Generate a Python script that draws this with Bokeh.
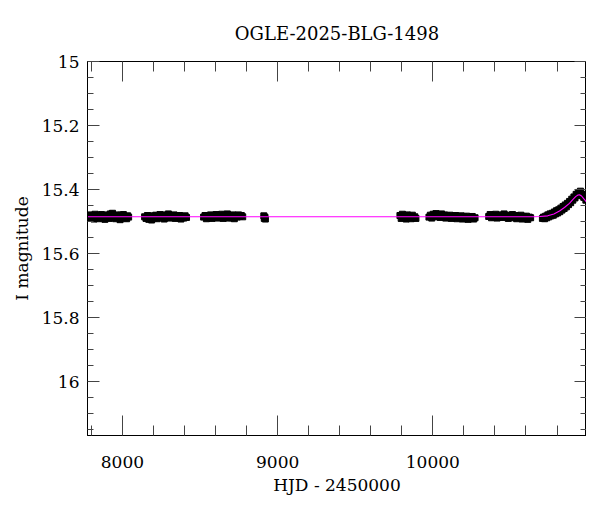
from bokeh.plotting import figure
from bokeh.models import Range1d, LinearAxis, FixedTicker, CustomLabelingPolicy
from bokeh.embed import file_html
from bokeh.resources import INLINE

TITLE = "OGLE-2025-BLG-1498"
X_LABEL = "HJD - 2450000"
Y_LABEL = "I magnitude"

x_major = [8000, 9000, 10000]
x_minor = [7800, 8200, 8400, 8600, 8800, 9200, 9400, 9600, 9800, 10200, 10400, 10600, 10800]
y_major = [15.0, 15.2, 15.4, 15.6, 15.8, 16.0]
y_labels = ["15", "15.2", "15.4", "15.6", "15.8", "16"]
y_minor = [15.05, 15.1, 15.15, 15.25, 15.3, 15.35, 15.45, 15.5, 15.55, 15.65, 15.7, 15.75,
           15.85, 15.9, 15.95, 16.05, 16.1, 16.15]

# observations per season (HJD - 2450000, I mag)
t1 = [7782, 7789, 7796, 7803, 7810, 7817, 7824, 7831, 7838, 7845, 7852, 7859, 7866, 7873, 7880,
      7887, 7894, 7901, 7908, 7915, 7922, 7929, 7936, 7943, 7950, 7957, 7964, 7971, 7978, 7985,
      7992, 7999, 8006, 8013, 8020, 8027, 8034, 8040]
m1 = [15.484, 15.479, 15.490, 15.486, 15.481, 15.492, 15.477, 15.487, 15.483, 15.491, 15.480,
      15.486, 15.478, 15.489, 15.484, 15.493, 15.481, 15.486, 15.479, 15.490, 15.476, 15.485,
      15.474, 15.488, 15.482, 15.491, 15.479, 15.486, 15.483, 15.494, 15.480, 15.487, 15.478,
      15.489, 15.484, 15.491, 15.482, 15.486]
t2 = [8143, 8152, 8161, 8170, 8179, 8188, 8197, 8206, 8215, 8224, 8233, 8242, 8251, 8260, 8269,
      8278, 8287, 8296, 8305, 8314, 8323, 8332, 8341, 8350, 8359, 8368, 8377, 8386, 8395, 8404, 8413]
m2 = [15.485, 15.490, 15.481, 15.493, 15.484, 15.495, 15.482, 15.489, 15.480, 15.491, 15.484,
      15.478, 15.488, 15.482, 15.492, 15.479, 15.486, 15.476, 15.489, 15.481, 15.487, 15.479,
      15.490, 15.483, 15.488, 15.481, 15.492, 15.484, 15.489, 15.482, 15.487]
t3 = [8523, 8532, 8541, 8550, 8559, 8568, 8577, 8586, 8595, 8604, 8613, 8622, 8631, 8640, 8649,
      8658, 8667, 8676, 8685, 8694, 8703, 8712, 8721, 8730, 8739, 8748, 8757, 8766, 8775]
m3 = [15.486, 15.481, 15.491, 15.483, 15.488, 15.479, 15.490, 15.482, 15.487, 15.478, 15.489,
      15.481, 15.486, 15.477, 15.490, 15.480, 15.487, 15.476, 15.489, 15.482, 15.488, 15.479,
      15.491, 15.481, 15.486, 15.479, 15.484, 15.481, 15.485]
t4 = [8911, 8914, 8918, 8921]
m4 = [15.482, 15.490, 15.486, 15.492]
t5 = [9788, 9796, 9804, 9812, 9820, 9828, 9836, 9844, 9852, 9860, 9868, 9876, 9884, 9891]
m5 = [15.481, 15.490, 15.477, 15.486, 15.482, 15.492, 15.479, 15.487, 15.483, 15.491, 15.480,
      15.488, 15.485, 15.490]
t6 = [9975, 9984, 9993, 10002, 10011, 10020, 10029, 10038, 10047, 10056, 10065, 10074, 10083,
      10092, 10101, 10110, 10119, 10128, 10137, 10146, 10155, 10164, 10173, 10182, 10191, 10200,
      10209, 10218, 10227, 10236, 10245, 10254, 10263, 10272]
m6 = [15.486, 15.480, 15.489, 15.477, 15.485, 15.475, 15.483, 15.478, 15.487, 15.476, 15.484,
      15.479, 15.489, 15.482, 15.486, 15.480, 15.490, 15.483, 15.487, 15.481, 15.491, 15.484,
      15.488, 15.482, 15.492, 15.485, 15.489, 15.483, 15.493, 15.486, 15.490, 15.484, 15.492, 15.488]
t7 = [10360, 10369, 10378, 10387, 10396, 10405, 10414, 10423, 10432, 10441, 10450, 10459, 10468,
      10477, 10486, 10495, 10504, 10513, 10522, 10531, 10540, 10549, 10558, 10567, 10576, 10585,
      10594, 10603, 10612, 10621, 10630]
m7 = [15.484, 15.478, 15.488, 15.481, 15.486, 15.477, 15.489, 15.482, 15.485, 15.479, 15.487,
      15.476, 15.484, 15.480, 15.490, 15.482, 15.486, 15.478, 15.488, 15.481, 15.491, 15.483,
      15.487, 15.480, 15.492, 15.484, 15.489, 15.483, 15.493, 15.486, 15.488]
t8 = [10706, 10713, 10720, 10727, 10734, 10741, 10748, 10755, 10762, 10769, 10776, 10783, 10790,
      10797, 10804, 10811, 10818, 10825, 10832, 10839, 10846, 10853, 10860, 10867, 10874, 10881,
      10888, 10895, 10902, 10909, 10916, 10923, 10930, 10937, 10944, 10951, 10958, 10965, 10972,
      10979, 10986]
m8 = [15.490, 15.486, 15.491, 15.483, 15.488, 15.479, 15.485, 15.476, 15.482, 15.474, 15.480,
      15.470, 15.476, 15.466, 15.473, 15.463, 15.469, 15.458, 15.464, 15.453, 15.459, 15.448,
      15.454, 15.443, 15.447, 15.437, 15.441, 15.430, 15.433, 15.423, 15.426, 15.415, 15.419,
      15.409, 15.412, 15.405, 15.414, 15.417, 15.424, 15.425, 15.433]

# model curve
model_t = [7775, 10650, 10690, 10740, 10780, 10816, 10848, 10880, 10900, 10920, 10935, 10945,
           10958, 10972, 10990]
model_m = [15.485, 15.485, 15.484, 15.482, 15.476, 15.467, 15.456, 15.443, 15.432, 15.422,
           15.417, 15.416, 15.420, 15.428, 15.439]

FONT = "DejaVu Serif"

p = figure(frame_width=499, frame_height=374,
           x_range=Range1d(7775, 10990), y_range=Range1d(16.168, 15.0),
           output_backend="svg", toolbar_location=None,
           min_border_left=0, min_border_right=0, min_border_top=0, min_border_bottom=0,
           x_axis_type=None, y_axis_type=None, margin=(2, 0, 0, 8))
p.grid.visible = False
p.outline_line_color = "black"
p.background_fill_color = "white"
p.border_fill_color = "white"

p.title.text = TITLE
p.title.align = "center"
p.title.text_font = FONT
p.title.text_font_size = "18px"
p.title.text_font_style = "normal"
p.title.text_color = "black"
p.title.standoff = 36

xt = FixedTicker(ticks=x_major, minor_ticks=x_minor)
yt = FixedTicker(ticks=y_major, minor_ticks=y_minor)

no_labels = CustomLabelingPolicy(code="""
for (let i = 0; i < indices.size; i++) { indices.unset(i) }
return indices
""")


def style(ax, xaxis):
    ax.axis_line_color = "black"
    ax.major_tick_line_color = "#444444"
    ax.minor_tick_line_color = "#444444"
    ax.major_tick_out = 0
    ax.minor_tick_out = 0
    ax.major_tick_in = 20 if xaxis else 12
    ax.minor_tick_in = 10 if xaxis else 6
    ax.major_label_text_font = FONT
    ax.major_label_text_font_size = "17px"
    ax.major_label_text_color = "black"
    ax.axis_label_text_font = FONT
    ax.axis_label_text_font_size = "17px"
    ax.axis_label_text_font_style = "normal"
    ax.axis_label_text_color = "black"


xb = LinearAxis(ticker=xt, axis_label=X_LABEL)
style(xb, True)
xb.major_label_standoff = 20
xb.axis_label_standoff = 4
p.add_layout(xb, "below")

xa = LinearAxis(ticker=xt, major_label_policy=no_labels)
style(xa, True)
xa.major_label_overrides = {v: "" for v in x_major}
xa.major_label_standoff = 0
p.add_layout(xa, "above")

yl = LinearAxis(ticker=yt, axis_label=Y_LABEL)
style(yl, False)
yl.major_label_overrides = {v: s for v, s in zip(y_major, y_labels)}
yl.major_label_standoff = 8
yl.axis_label_standoff = 7
p.add_layout(yl, "left")

yr = LinearAxis(ticker=yt, major_label_policy=no_labels)
style(yr, False)
yr.major_label_overrides = {v: "" for v in y_major}
yr.major_label_standoff = 0
p.add_layout(yr, "right")

for t, m in [(t1, m1), (t2, m2), (t3, m3), (t4, m4), (t5, m5), (t6, m6), (t7, m7), (t8, m8)]:
    p.scatter(t, m, marker="square", size=6, fill_color="black", line_color="black")

p.line(model_t, model_m, line_color="#ff00ff", line_width=1.1)

open("out.html", "w").write(file_html(p, INLINE))
